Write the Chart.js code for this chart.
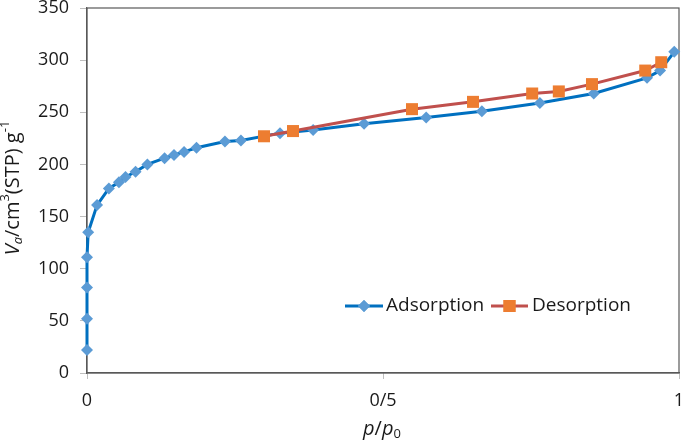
<!DOCTYPE html>
<html>
<head>
<meta charset="utf-8">
<script src="https://cdn.jsdelivr.net/npm/chart.js@4/dist/chart.umd.min.js"></script>
<style>
  html, body { margin: 0; padding: 0; background: #fff; }
  #wrap { width: 685px; height: 443px; }
</style>
</head>
<body>
<div id="wrap"><canvas id="c" width="685" height="443"></canvas></div>
<script>
// ---- data ----
const adsorptionX = [0, 0, 0, 0, 0.002, 0.017, 0.037, 0.054, 0.065, 0.082, 0.102, 0.131, 0.147, 0.164, 0.185, 0.233, 0.260, 0.326, 0.382, 0.468, 0.573, 0.667, 0.765, 0.856, 0.946, 0.968, 0.992];
const adsorptionY = [22, 52, 82, 111, 135, 161, 177, 183, 188, 193, 200, 206, 209, 212, 216, 222, 223, 230, 233, 239, 245, 251, 259, 268, 283, 290, 308];
const desorptionX = [0.299, 0.348, 0.549, 0.652, 0.752, 0.797, 0.853, 0.943, 0.970];
const desorptionY = [227, 232, 253, 260, 268, 270, 277, 290, 298];
const xTickLabels = {0: '0', 0.5: '0/5', 1: '1'};
const seriesNames = ['Adsorption', 'Desorption'];

const FONT = '"Open Sans", "Liberation Sans", sans-serif';
const TXT = '#1a1a1a';

function pts(xs, ys) { return xs.map((x, i) => ({x: x, y: ys[i]})); }

function richRun(ctx, segs, size) {
  let w = 0;
  const parts = segs.map(s => {
    const fs = s.sub || s.sup ? size * 0.65 : size;
    const f = (s.italic ? 'italic ' : '') + fs + 'px ' + FONT;
    ctx.font = f;
    const mw = ctx.measureText(s.t).width;
    w += mw;
    return {t: s.t, f: f, w: mw, dy: s.sub ? size * 0.25 : (s.sup ? -size * 0.38 : 0)};
  });
  return {parts, w};
}
function drawRich(ctx, segs, size, cx, cy, rot) {
  ctx.save();
  ctx.translate(cx, cy);
  if (rot) ctx.rotate(rot);
  const r = richRun(ctx, segs, size);
  let x = -r.w / 2;
  ctx.fillStyle = TXT;
  ctx.textBaseline = 'middle';
  ctx.textAlign = 'left';
  r.parts.forEach(p => { ctx.font = p.f; ctx.fillText(p.t, x, p.dy); x += p.w; });
  ctx.restore();
}

const extras = {
  id: 'extras',
  beforeDatasetsDraw(chart) {
    const a = chart.chartArea, ctx = chart.ctx;
    ctx.save();
    ctx.strokeStyle = '#595959';
    ctx.lineWidth = 1.2;
    ctx.strokeRect(a.left, a.top, a.right - a.left, a.bottom - a.top);
    ctx.restore();
  },
  afterDraw(chart) {
    const ctx = chart.ctx;
    drawRich(ctx, [{t: 'V', italic: true}, {t: 'a', italic: true, sub: true}, {t: '/cm'}, {t: '3', sup: true}, {t: '(STP) g'}, {t: '-1', sup: true}], 20, 13, 188, -Math.PI / 2);
    drawRich(ctx, [{t: 'p', italic: true}, {t: '/'}, {t: 'p', italic: true}, {t: '0', sub: true}], 20, 382, 429, 0);
    const ds = chart.data.datasets;
    const items = [
      {x0: 345, x1: 383, tx: 386, ds: ds[0]},
      {x0: 491, x1: 528, tx: 532, ds: ds[1]}
    ];
    const ly = 306;
    items.forEach((it, i) => {
      ctx.save();
      ctx.strokeStyle = it.ds.borderColor;
      ctx.lineWidth = 3;
      ctx.beginPath(); ctx.moveTo(it.x0, ly); ctx.lineTo(it.x1, ly); ctx.stroke();
      ctx.fillStyle = it.ds.pointBackgroundColor;
      ctx.beginPath();
      Chart.helpers.drawPoint(ctx, {pointStyle: it.ds.pointStyle, radius: it.ds.pointRadius, borderWidth: 0, rotation: 0}, (it.x0 + it.x1) / 2, ly);
      ctx.fill();
      ctx.fillStyle = TXT;
      ctx.font = '19px ' + FONT;
      ctx.textBaseline = 'middle';
      ctx.textAlign = 'left';
      ctx.fillText(seriesNames[i], it.tx, ly);
      ctx.restore();
    });
  }
};

new Chart(document.getElementById('c'), {
  type: 'line',
  data: {
    datasets: [
      {
        label: seriesNames[0],
        data: pts(adsorptionX, adsorptionY),
        borderColor: '#0070C0',
        borderWidth: 3,
        pointStyle: 'rectRot',
        pointRadius: 6,
        pointBackgroundColor: '#5B9BD5',
        pointBorderColor: '#5B9BD5',
        pointBorderWidth: 0,
        tension: 0,
        clip: false,
        order: 1
      },
      {
        label: seriesNames[1],
        data: pts(desorptionX, desorptionY),
        borderColor: '#C0504D',
        borderWidth: 3,
        pointStyle: 'rect',
        pointRadius: 8.5,
        pointBackgroundColor: '#ED7D31',
        pointBorderColor: '#ED7D31',
        pointBorderWidth: 0,
        tension: 0,
        clip: false,
        order: 0
      }
    ]
  },
  options: {
    responsive: false,
    animation: false,
    devicePixelRatio: 1,
    layout: { autoPadding: false, padding: { top: 8, right: 6, left: 0, bottom: 0 } },
    plugins: { legend: { display: false }, tooltip: { enabled: false } },
    scales: {
      x: {
        type: 'linear', min: 0, max: 1,
        afterBuildTicks(s) { s.ticks = Object.keys(xTickLabels).map(v => ({value: +v})); },
        afterFit(s) { s.height = 70; s.paddingLeft = 0; s.paddingRight = 0; },
        ticks: { callback: v => xTickLabels[v], color: TXT, font: { family: FONT, size: 18 }, padding: 11, maxRotation: 0, autoSkip: false },
        grid: { drawOnChartArea: false, drawTicks: true, tickLength: 6, color: '#bfbfbf' },
        border: { display: true, color: '#595959', width: 1.2 }
      },
      y: {
        min: 0, max: 350,
        ticks: { stepSize: 50, color: TXT, font: { family: FONT, size: 18 }, padding: 11 },
        afterFit(s) { s.width = 87; s.paddingTop = 0; s.paddingBottom = 0; },
        grid: { drawOnChartArea: false, drawTicks: true, tickLength: 7, color: '#bfbfbf' },
        border: { display: true, color: '#595959', width: 1.2 }
      }
    }
  },
  plugins: [extras]
});
</script>
</body>
</html>
